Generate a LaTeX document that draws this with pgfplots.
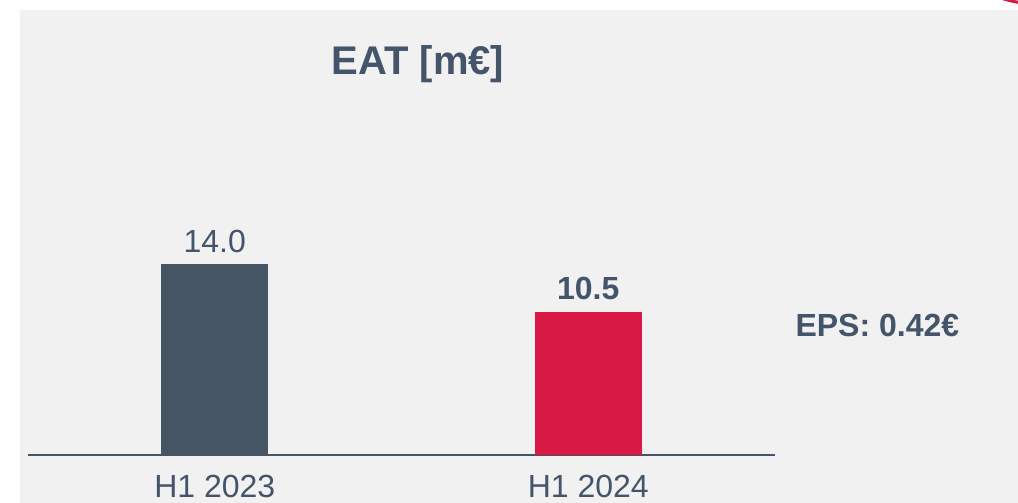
\documentclass[border=0pt]{standalone}
\usepackage{pgfplots}
\pgfplotsset{compat=1.18}
\usepackage{fontspec}
\setmainfont{Liberation Sans}

\definecolor{bgc}{HTML}{F1F1F1}
\definecolor{textc}{HTML}{44546A}
\definecolor{darkc}{HTML}{455564}
\definecolor{redc}{HTML}{D71944}

\newcommand{\lbl}{\fontsize{32}{38}\selectfont}
\newcommand{\ttl}{\fontsize{40}{48}\selectfont\bfseries}

\begin{document}
\begin{tikzpicture}[x=1pt,y=1pt]
  \path[use as bounding box] (0,0) rectangle (1018,503);
  \fill[white] (0,0) rectangle (1018,503);
  \fill[bgc] (20,0) rectangle (1018,493);
  \begin{scope}
    \clip (0,0) rectangle (1018,503);
    \draw[redc, line width=3pt] (998,506) .. controls (1006,503) and (1013,501.5) .. (1022,500);
  \end{scope}

  \begin{axis}[
      at={(28pt,48pt)}, anchor=south west,
      scale only axis, width=747pt, height=272.8pt,
      xmin=-0.5, xmax=1.5, ymin=0, ymax=20,
      axis x line=bottom, axis y line=none,
      axis line style={draw=textc, line width=2pt, -},
      xtick={0,1}, xticklabels={H1 2023, H1 2024},
      major tick length=0pt,
      xticklabel style={font=\lbl, text=textc, anchor=base, inner sep=0pt, yshift=-43pt},
      ytick=\empty,
      clip=false,
      /pgf/number format/.cd, fixed, fixed zerofill, precision=1, assume math mode=true,
    ]
    % H1 2023
    \addplot[ybar, fill=darkc, draw=none, bar width=107pt, bar shift=0pt,
      nodes near coords,
      nodes near coords style={font=\lbl, text=textc, anchor=base, yshift=12pt}]
      coordinates {(0,14.0)};
    % H1 2024
    \addplot[ybar, fill=redc, draw=none, bar width=107pt, bar shift=0pt,
      nodes near coords,
      nodes near coords style={font=\lbl\bfseries, text=textc, anchor=base, yshift=12pt}]
      coordinates {(1,10.5)};
  \end{axis}

  \node[anchor=base, text=textc, font=\ttl] at (418,428) {EAT [m€]};
  \node[anchor=base west, text=textc, font=\lbl\bfseries] at (792,166) {EPS: 0.42€};
\end{tikzpicture}
\end{document}
